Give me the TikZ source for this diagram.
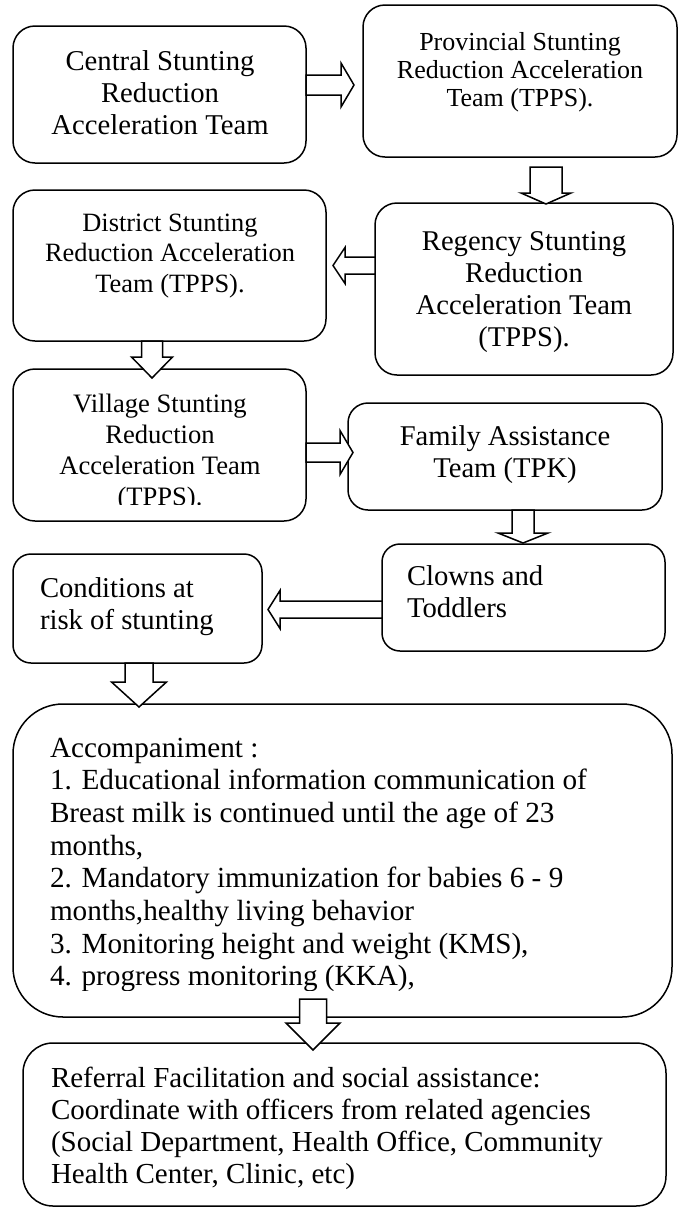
\documentclass[tikz,border=0pt]{standalone}
\usepackage{fontspec}
\setmainfont{Liberation Serif}
\usetikzlibrary{calc}
\newcommand\tl[4]{\fontsize{#1}{#2}\selectfont\begin{tabular}[t]{@{}#3@{}}#4\end{tabular}}
\newcommand\bx[6]{\node[box,rounded corners=#6pt,minimum width={#4-#2},minimum height={#5-#3}] (#1) at ({(#2+#4)/2},{(#3+#5)/2}) {};}
% horizontal block arrow: start point, tip, shaft half, head half, head length (signed)
\newcommand\harr[5]{\draw[arr] let \p1=#1, \p2=#2 in (\x1,{\y2+#3pt}) -- ({\x2-(#5pt)},{\y2+#3pt}) -- ({\x2-(#5pt)},{\y2+#4pt}) -- (\x2,\y2) -- ({\x2-(#5pt)},{\y2-#4pt}) -- ({\x2-(#5pt)},{\y2-#3pt}) -- (\x1,{\y2-#3pt}) -- cycle;}
% vertical (downward) block arrow
\newcommand\varr[5]{\draw[arr] let \p1=#1, \p2=#2 in ({\x2-#3pt},\y1) -- ({\x2-#3pt},{\y2+#5pt}) -- ({\x2-#4pt},{\y2+#5pt}) -- (\x2,\y2) -- ({\x2+#4pt},{\y2+#5pt}) -- ({\x2+#3pt},{\y2+#5pt}) -- ({\x2+#3pt},\y1) -- cycle;}
\begin{document}
\begin{tikzpicture}[x=1pt,y=-1pt,
  box/.style={draw,line width=1.5pt,inner sep=0pt,outer sep=0pt},
  arr/.style={draw,line width=1.5pt,fill=white,line join=miter},
  txt/.style={inner sep=0pt,outer sep=0pt,anchor=base},
  ltxt/.style={inner sep=0pt,outer sep=0pt,anchor=base west}]
\useasboundingbox (0,0) rectangle (681,1208);
\fill[white] (0,0) rectangle (681,1208);
% boxes
\bx{cen}{13}{26}{306}{163}{22}
\bx{prov}{363}{5}{677}{157}{22}
\bx{dist}{13}{190}{326}{341}{22}
\bx{reg}{375}{203}{673}{375}{22}
\bx{vill}{13}{369}{306}{521}{22}
\bx{fam}{348}{403}{662}{510}{20}
\bx{clown}{382}{544}{665}{651}{18}
\bx{cond}{13}{554}{262}{663}{18}
\bx{acc}{13}{704}{672}{1017}{50}
\bx{ref}{23}{1043}{666}{1206}{30}
% arrow free ends
\coordinate (a1) at (354,85);
\coordinate (a2s) at (545,167);
\coordinate (a2) at (546,204);
\coordinate (a3) at (333,265.5);
\coordinate (a4) at (152,378);
\coordinate (a5) at (353,452.5);
\coordinate (a6) at (523,543);
\coordinate (a7) at (268,609.5);
\coordinate (a8) at (139,707);
\coordinate (a9s) at (313,999);
\coordinate (a9) at (313,1050);
% arrows
\harr{(cen.east)}{(a1)}{10}{22}{13}
\varr{(a2s)}{(a2)}{16}{25}{11}
\harr{(reg.west)}{(a3)}{8.5}{18}{-12}
\varr{(dist.south)}{(a4)}{10.5}{20.5}{21}
\harr{(vill.east)}{(a5)}{9.5}{22}{13}
\varr{(fam.south)}{(a6)}{11}{25}{10}
\harr{(clown.west)}{(a7)}{8.5}{19}{-12}
\varr{(cond.south)}{(a8)}{14}{27.5}{25}
\varr{(a9s)}{(a9)}{13.5}{27}{27}
% texts
\node[txt] (tcen) at (160,70) {\tl{28.7}{32}{c}{Central Stunting\\Reduction\\Acceleration Team}};
\node[txt] (tprov) at (520,50) {\tl{26}{28}{c}{Provincial Stunting\\Reduction Acceleration\\Team (TPPS).}};
\node[txt] (tdist) at (170,231) {\tl{26.4}{30.5}{c}{District Stunting\\Reduction Acceleration\\Team (TPPS).}};
\node[txt] (treg) at (524,250) {\tl{28.6}{32.3}{c}{Regency Stunting\\Reduction\\Acceleration Team\\(TPPS).}};
\begin{scope}
\clip (13,369) rectangle (306,504);
\node[txt] (tvill) at (160,412) {\tl{26.6}{31}{c}{Village Stunting\\Reduction\\Acceleration Team\\(TPPS).}};
\end{scope}
\node[txt] (tfam) at (505,445) {\tl{28.6}{32}{c}{Family Assistance\\Team (TPK)}};
\node[ltxt] (tclown) at (407,585) {\tl{28.7}{32}{l}{Clowns and\\Toddlers}};
\node[ltxt] (tcond) at (40,597) {\tl{28.7}{32}{l}{Conditions at\\risk of stunting}};
\begin{scope}
\clip (13,704) rectangle (672,990);
\node[ltxt] (tacc) at (50,757) {\tl{29.2}{32.7}{l}{Accompaniment :\\1. Educational information communication of\\Breast milk is continued until the age of 23\\months,\\2. Mandatory immunization for babies 6 - 9\\months,healthy living behavior\\3. Monitoring height and weight (KMS),\\4. progress monitoring (KKA),}};
\end{scope}
\node[ltxt] (tref) at (51,1087) {\tl{29}{32}{l}{Referral Facilitation and social assistance:\\Coordinate with officers from related agencies\\(Social Department, Health Office, Community\\Health Center, Clinic, etc)}};
\end{tikzpicture}
\end{document}
